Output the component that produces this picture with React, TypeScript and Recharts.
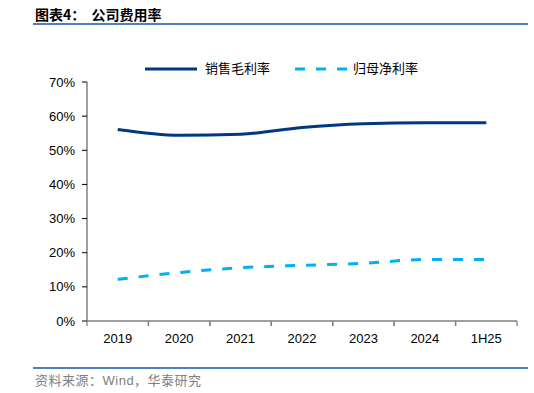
import React from 'react';
import { LineChart, Line, XAxis, YAxis } from 'recharts';

const years = ['2019', '2020', '2021', '2022', '2023', '2024', '1H25'];
const grossMargin = [56.1, 54.4, 54.7, 56.7, 57.8, 58.1, 58.1];
const netMargin = [12.2, 14.2, 15.6, 16.3, 16.9, 18.0, 18.0];
const yTicks = [0, 10, 20, 30, 40, 50, 60, 70];
const seriesNames = ['销售毛利率', '归母净利率'];

const data = years.map((year, i) => ({ year, gross: grossMargin[i], net: netMargin[i] }));

const FONT = '"Liberation Sans", Arial, "Noto Sans CJK SC", sans-serif';
const NAVY = '#003882';
const CYAN = '#00b0f0';
const AXIS = '#808080';
const PLOT_W = 430;
const HALF_BAND = PLOT_W / years.length / 2;

const XTick = (props: any) => {
  const { x, y, payload } = props;
  return (
    <g>
      <line x1={x - HALF_BAND} x2={x - HALF_BAND} y1={y - 8} y2={y - 3} stroke={AXIS} strokeWidth={1.3} />
      <line x1={x + HALF_BAND} x2={x + HALF_BAND} y1={y - 8} y2={y - 3} stroke={AXIS} strokeWidth={1.3} />
      <text x={x} y={y + 14} textAnchor="middle" fontSize={13} fill="#000" fontFamily={FONT}>
        {payload.value}
      </text>
    </g>
  );
};

const ChartLegend = () => (
  <div style={{ position: 'absolute', left: 145, top: 61, display: 'flex', alignItems: 'center', fontFamily: FONT, fontSize: 13, color: '#000', lineHeight: '16px' }}>
    <svg width={52} height={8} style={{ marginRight: 8 }}>
      <line x1={0} x2={52} y1={4} y2={4} stroke={NAVY} strokeWidth={3} />
    </svg>
    <span style={{ marginRight: 25 }}>{seriesNames[0]}</span>
    <svg width={53} height={8} style={{ marginRight: 5 }}>
      <line x1={0} x2={53} y1={4} y2={4} stroke={CYAN} strokeWidth={3} strokeDasharray="10 11" />
    </svg>
    <span>{seriesNames[1]}</span>
  </div>
);

export default function App() {
  return (
    <div style={{ position: 'fixed', left: 0, top: 0, width: 534, height: 393, background: '#fff', fontFamily: FONT }}>
      <div style={{ position: 'absolute', left: 35, top: 5, fontSize: 14, fontWeight: 'bold', color: '#000', fontFamily: '"Noto Sans CJK SC", sans-serif', lineHeight: '18px', whiteSpace: 'pre' }}>
        图表4：  公司费用率
      </div>
      <div style={{ position: 'absolute', left: 33, top: 23, width: 495, height: 1.5, background: '#4f7fbd' }} />
      <LineChart width={534} height={393} data={data} margin={{ top: 82, right: 17, bottom: 42, left: 37 }}>
        <XAxis
          dataKey="year"
          tick={<XTick />}
          tickLine={false}
          axisLine={{ stroke: AXIS, strokeWidth: 1.5 }}
          height={30}
          interval={0}
          padding={{ left: HALF_BAND, right: HALF_BAND }}
        />
        <YAxis
          domain={[0, 70]}
          ticks={yTicks}
          tickFormatter={(v: number) => `${v}%`}
          width={50}
          tickSize={5}
          tickMargin={7}
          axisLine={{ stroke: AXIS, strokeWidth: 1.5 }}
          tickLine={{ stroke: '#000' }}
          tick={{ fill: '#000', fontSize: 13, fontFamily: FONT }}
        />
        <Line type="monotone" dataKey="gross" name={seriesNames[0]} stroke={NAVY} strokeWidth={3} dot={false} isAnimationActive={false} />
        <Line type="monotone" dataKey="net" name={seriesNames[1]} stroke={CYAN} strokeWidth={3} strokeDasharray="10 11" dot={false} isAnimationActive={false} />
      </LineChart>
      <ChartLegend />
      <div style={{ position: 'absolute', left: 33, top: 367, width: 495, height: 1.5, background: '#4f7fbd' }} />
      <div style={{ position: 'absolute', left: 35, top: 373, fontSize: 13, color: '#808080', fontFamily: '"Liberation Sans", "Noto Sans CJK SC", sans-serif', lineHeight: '16px', letterSpacing: 0.5 }}>
        资料来源：Wind，华泰研究
      </div>
    </div>
  );
}
